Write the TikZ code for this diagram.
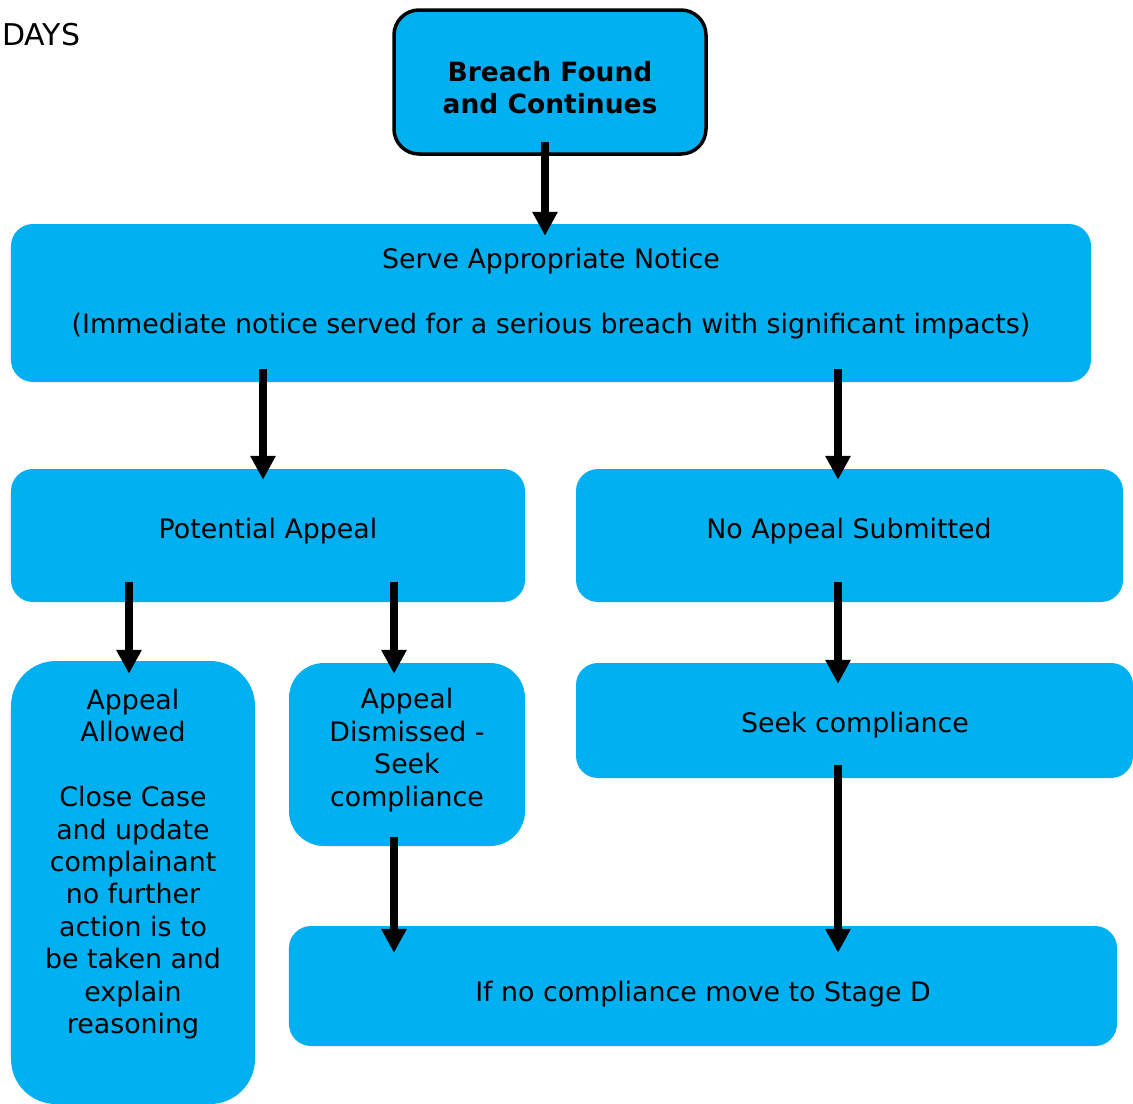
\documentclass[tikz,border=0pt]{standalone}
\usepackage{fontspec}
\setmainfont{DejaVu Sans}
\usetikzlibrary{arrows.meta,calc}
\definecolor{boxblue}{HTML}{00B0F0}
\begin{document}
\begin{tikzpicture}[x=1bp,y=-1bp,
  box/.style={fill=boxblue, draw=none, rounded corners=22bp, inner sep=0pt},
  txt/.style={font=\fontsize{26.8bp}{32.4bp}\selectfont, align=center, inner sep=0pt},
  arr/.style={line width=8bp, -{Triangle[width=24bp,length=24bp]}}]
\useasboundingbox (0,0) rectangle (1133,1104);

% boxes
\node[box, draw=black, line width=3.5bp, rounded corners=25bp, minimum width=312bp, minimum height=144bp] (top) at (550,82) {};
\node[box, minimum width=1080bp, minimum height=158bp] (serve) at (551,303) {};
\node[box, minimum width=514bp, minimum height=133bp] (pa) at (268,535.5) {};
\node[box, minimum width=547bp, minimum height=133bp] (na) at (849.5,535.5) {};
\node[box, rounded corners=45bp, minimum width=244bp, minimum height=443bp] (allowed) at (133,882.5) {};
\node[box, rounded corners=35bp, minimum width=236bp, minimum height=183bp] (dis) at (407,754.5) {};
\node[box, minimum width=557bp, minimum height=115bp] (seek) at (854.5,720.5) {};
\node[box, minimum width=828bp, minimum height=120bp] (bottom) at (703,986) {};

% texts
\node[txt, font=\fontsize{30bp}{36bp}\selectfont, anchor=base west] (days) at (2,45) {DAYS};
\node[txt, font=\fontsize{26.5bp}{32bp}\selectfont\bfseries] (toptxt) at (550,88) {Breach Found\\and Continues};
\node[txt] (servetxt) at (551,294) {Serve Appropriate Notice\\[32.4bp](Immediate notice served for a serious breach with significant impacts)};
\node[txt, anchor=base] (patxt) at (268,538) {Potential Appeal};
\node[txt, anchor=base] (natxt) at (849,538) {No Appeal Submitted};
\node[txt] (allowedtxt) at (133,864) {Appeal\\Allowed\\[32.4bp]Close Case\\and update\\complainant\\no further\\action is to\\be taken and\\explain\\reasoning};
\node[txt] (distxt) at (407,750) {Appeal\\Dismissed -\\Seek\\compliance};
\node[txt, anchor=base] (seektxt) at (855,732) {Seek compliance};
\node[txt, anchor=base] (bottomtxt) at (703,1001) {If no compliance move to Stage D};

% arrows
\draw[arr] ([xshift=-5bp,yshift=14bp]top.south) -- ([xshift=-5bp,yshift=-12bp]top.south |- serve.north);
\draw[arr] ([xshift=-5bp,yshift=13bp]pa.north |- serve.south) -- ([xshift=-5bp,yshift=-11bp]pa.north);
\draw[arr] ([xshift=-11.5bp,yshift=13bp]na.north |- serve.south) -- ([xshift=-11.5bp,yshift=-11bp]na.north);
\draw[arr] ([xshift=-4bp,yshift=20bp]allowed.north |- pa.south) -- ([xshift=-4bp,yshift=-13bp]allowed.north);
\draw[arr] ([xshift=-13bp,yshift=20bp]dis.north |- pa.south) -- ([xshift=-13bp,yshift=-11bp]dis.north);
\draw[arr] ([xshift=-16.5bp,yshift=20bp]seek.north |- na.south) -- ([xshift=-16.5bp,yshift=-21bp]seek.north);
\draw[arr] ([xshift=-13bp,yshift=9bp]dis.south) -- ([xshift=-13bp,yshift=-27bp]dis.south |- bottom.north);
\draw[arr] ([xshift=-16.5bp,yshift=13bp]seek.south) -- ([xshift=-16.5bp,yshift=-27bp]seek.south |- bottom.north);
\end{tikzpicture}
\end{document}
